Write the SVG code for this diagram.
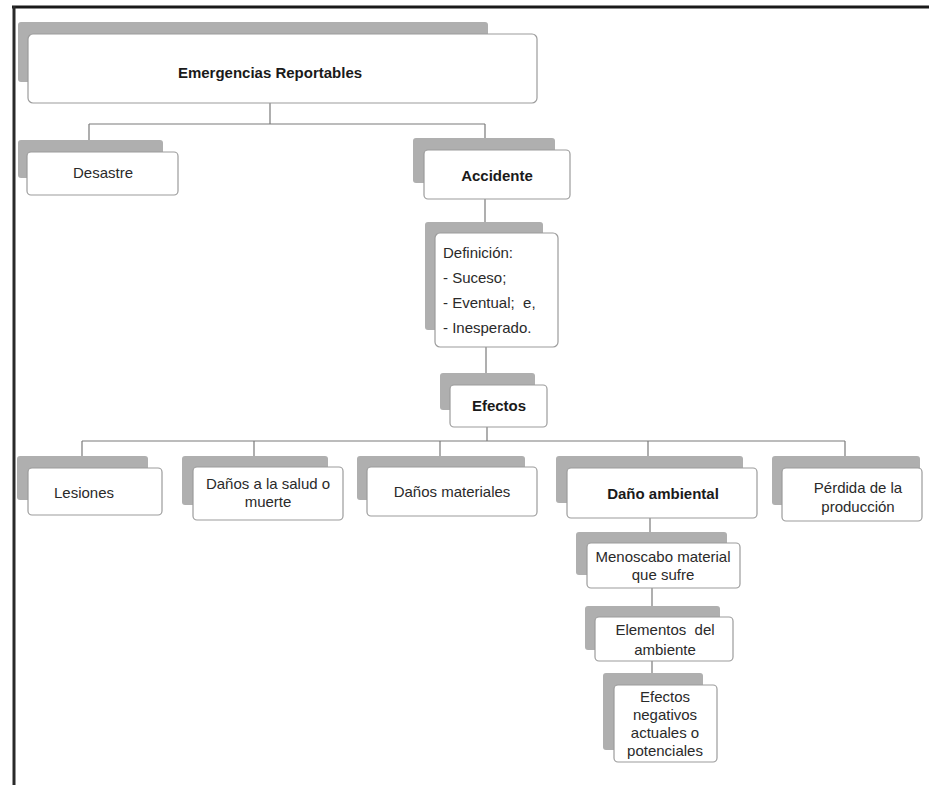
<svg xmlns="http://www.w3.org/2000/svg" width="929" height="785" viewBox="0 0 929 785">
<style>
.sh{fill:#afafaf;}
.bx{fill:#ffffff;stroke:#9c9c9c;stroke-width:1.2;}
.t{font-family:"Liberation Sans",Arial,sans-serif;font-size:15px;fill:#2a2a2a;text-anchor:middle;}
.b{font-weight:bold;fill:#1a1a1a;}
.l{text-anchor:start;}
.c{fill:none;stroke:#7a7a7a;stroke-width:1.2;}
</style>
<rect x="0" y="0" width="929" height="785" fill="#ffffff"/>
<g id="frame">
<line x1="12" y1="7" x2="929" y2="7" stroke="#1a1a1a" stroke-width="3"/>
<line x1="14" y1="6" x2="14" y2="785" stroke="#2a2a2a" stroke-width="3"/>
</g>
<g id="connectors">
<path class="c" d="M270,103 V124 M89,124 H485 M89,124 V140 M485,124 V138"/>
<path class="c" d="M485,199 V222"/>
<path class="c" d="M486,347 V373"/>
<path class="c" d="M487,427 V441 M82,441 H845 M82,441 V456 M254,441 V456 M440,441 V456 M648,441 V456 M845,441 V456"/>
<path class="c" d="M650,518 V532"/>
<path class="c" d="M652,588 V606"/>
<path class="c" d="M652,661 V673"/>
</g>
<g id="n-emergencias">
<rect class="sh" x="18" y="22" width="470" height="60" rx="3"/>
<rect class="bx" x="28" y="34" width="509" height="69" rx="5"/>
<text class="t b" x="270" y="78" font-size="16.5">Emergencias Reportables</text>
</g>
<g id="n-desastre">
<rect class="sh" x="18" y="140" width="145" height="38" rx="3"/>
<rect class="bx" x="27" y="152" width="151" height="43" rx="4"/>
<text class="t" x="103" y="178">Desastre</text>
</g>
<g id="n-accidente">
<rect class="sh" x="413" y="138" width="142" height="45" rx="3"/>
<rect class="bx" x="424" y="150" width="146" height="49" rx="4"/>
<text class="t b" x="497" y="181">Accidente</text>
</g>
<g id="n-definicion">
<rect class="sh" x="425" y="222" width="118" height="108" rx="3"/>
<rect class="bx" x="435" y="233" width="123" height="114" rx="5"/>
<text class="t l" x="443" y="258">Definición:</text>
<text class="t l" x="443" y="283">- Suceso;</text>
<text class="t l" x="443" y="308" xml:space="preserve">- Eventual;  e,</text>
<text class="t l" x="443" y="333">- Inesperado.</text>
</g>
<g id="n-efectos">
<rect class="sh" x="440" y="373" width="95" height="37" rx="3"/>
<rect class="bx" x="450" y="385" width="97" height="42" rx="4"/>
<text class="t b" x="499" y="411">Efectos</text>
</g>
<g id="n-lesiones">
<rect class="sh" x="17" y="456" width="131" height="44" rx="3"/>
<rect class="bx" x="28" y="468" width="134" height="47" rx="4"/>
<text class="t" x="84" y="498">Lesiones</text>
</g>
<g id="n-salud">
<rect class="sh" x="182" y="456" width="146" height="49" rx="3"/>
<rect class="bx" x="193" y="467" width="150" height="53" rx="4"/>
<text class="t" x="268" y="489">Daños a la salud o</text>
<text class="t" x="268" y="507">muerte</text>
</g>
<g id="n-materiales">
<rect class="sh" x="357" y="456" width="168" height="44" rx="3"/>
<rect class="bx" x="367" y="467" width="170" height="49" rx="4"/>
<text class="t" x="452" y="497">Daños materiales</text>
</g>
<g id="n-ambiental">
<rect class="sh" x="556" y="456" width="187" height="47" rx="3"/>
<rect class="bx" x="567" y="468" width="190" height="50" rx="4"/>
<text class="t b" x="663" y="499">Daño ambiental</text>
</g>
<g id="n-perdida">
<rect class="sh" x="772" y="456" width="148" height="49" rx="3"/>
<rect class="bx" x="782" y="468" width="140" height="53" rx="4"/>
<text class="t" x="858" y="493">Pérdida de la</text>
<text class="t" x="858" y="512">producción</text>
</g>
<g id="n-menoscabo">
<rect class="sh" x="576" y="532" width="151" height="43" rx="3"/>
<rect class="bx" x="587" y="543" width="153" height="45" rx="4"/>
<text class="t" x="663" y="562">Menoscabo material</text>
<text class="t" x="663" y="580">que sufre</text>
</g>
<g id="n-elementos">
<rect class="sh" x="585" y="606" width="135" height="44" rx="3"/>
<rect class="bx" x="595" y="617" width="138" height="44" rx="4"/>
<text class="t" x="665" y="635" xml:space="preserve">Elementos  del</text>
<text class="t" x="665" y="655">ambiente</text>
</g>
<g id="n-negativos">
<rect class="sh" x="603" y="673" width="100" height="77" rx="3"/>
<rect class="bx" x="614" y="685" width="103" height="77" rx="4"/>
<text class="t" x="665" y="702">Efectos</text>
<text class="t" x="665" y="720">negativos</text>
<text class="t" x="665" y="738">actuales o</text>
<text class="t" x="665" y="756">potenciales</text>
</g>
</svg>
